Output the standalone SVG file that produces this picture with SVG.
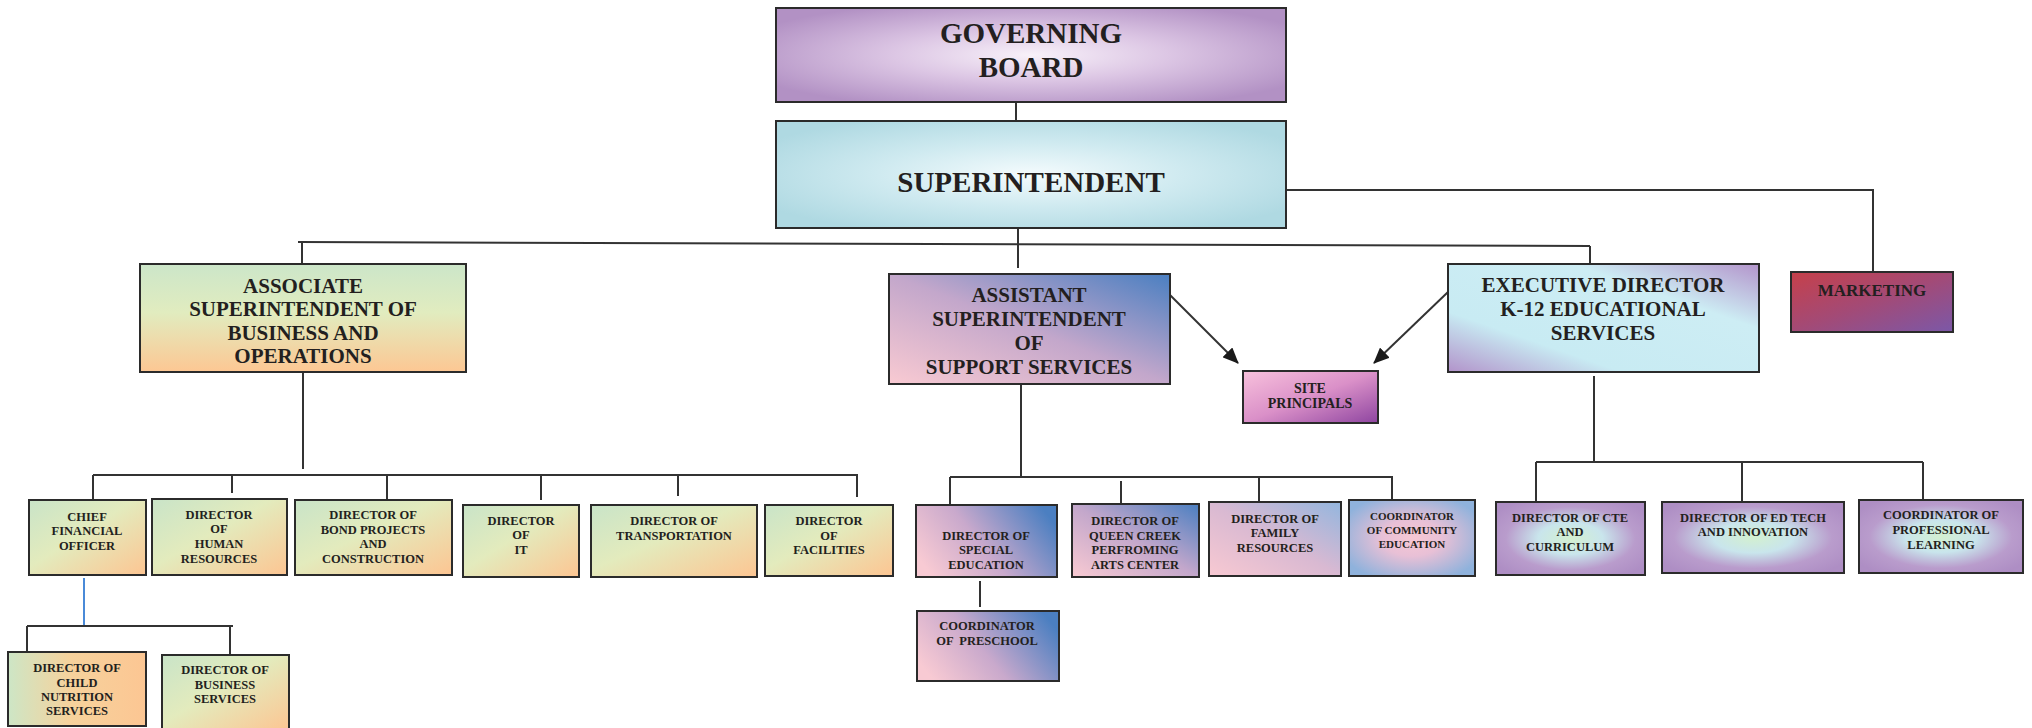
<svg xmlns="http://www.w3.org/2000/svg" width="2032" height="728" viewBox="0 0 2032 728">
<defs>
<radialGradient id="gGov" cx="50%" cy="50%" r="60%">
<stop offset="0" stop-color="#f8f1f9"/><stop offset="0.45" stop-color="#dcc6e4"/><stop offset="1" stop-color="#b291c4"/>
</radialGradient>
<radialGradient id="gSup" cx="50%" cy="50%" r="60%">
<stop offset="0" stop-color="#f4fbfd"/><stop offset="0.5" stop-color="#cfeaf0"/><stop offset="1" stop-color="#afd9e2"/>
</radialGradient>
<linearGradient id="gAssoc" x1="0" y1="0" x2="0" y2="1">
<stop offset="0" stop-color="#cce6c9"/><stop offset="0.45" stop-color="#e1ecbf"/><stop offset="1" stop-color="#fdc793"/>
</linearGradient>
<linearGradient id="gBiz" x1="0" y1="0" x2="1" y2="1">
<stop offset="0" stop-color="#c9e4c8"/><stop offset="0.45" stop-color="#e3ebbd"/><stop offset="1" stop-color="#fdc592"/>
</linearGradient>
<linearGradient id="gChild" x1="0" y1="0" x2="1" y2="0">
<stop offset="0" stop-color="#cde6c6"/><stop offset="0.45" stop-color="#f6d29c"/><stop offset="1" stop-color="#fcc693"/>
</linearGradient>
<linearGradient id="gAsst" x1="0" y1="1" x2="1" y2="0">
<stop offset="0" stop-color="#f9cad2"/><stop offset="0.5" stop-color="#c3a7cb"/><stop offset="1" stop-color="#4a7fc1"/>
</linearGradient>
<linearGradient id="gSup2" x1="0" y1="0.7" x2="1" y2="0.3">
<stop offset="0" stop-color="#f8cad3"/><stop offset="0.45" stop-color="#c9a9cc"/><stop offset="1" stop-color="#4b7fc1"/>
</linearGradient>
<linearGradient id="gFam" x1="0" y1="1" x2="1" y2="0">
<stop offset="0" stop-color="#f8c9d2"/><stop offset="0.5" stop-color="#d9b9d2"/><stop offset="1" stop-color="#93b6de"/>
</linearGradient>
<radialGradient id="gComm" cx="50%" cy="50%" r="60%">
<stop offset="0" stop-color="#f7c7d4"/><stop offset="0.4" stop-color="#e8c0d6"/><stop offset="1" stop-color="#8fb2dc"/>
</radialGradient>
<linearGradient id="gSite" x1="0" y1="0" x2="1" y2="1">
<stop offset="0" stop-color="#f8c1dc"/><stop offset="0.5" stop-color="#da90c8"/><stop offset="1" stop-color="#8e45a0"/>
</linearGradient>
<linearGradient id="gMkt" x1="0" y1="0" x2="1" y2="1">
<stop offset="0" stop-color="#c6404a"/><stop offset="0.5" stop-color="#a34a76"/><stop offset="1" stop-color="#7b58a8"/>
</linearGradient>
<linearGradient id="gExec" x1="0" y1="1" x2="1" y2="0">
<stop offset="0" stop-color="#b293ca"/><stop offset="0.28" stop-color="#c8ebf3"/><stop offset="0.7" stop-color="#cdedf4"/><stop offset="1" stop-color="#b394cb"/>
</linearGradient>
<radialGradient id="gK12" cx="50%" cy="50%" r="62%">
<stop offset="0" stop-color="#d3f0d0"/><stop offset="0.35" stop-color="#c9e5ec"/><stop offset="0.7" stop-color="#b99ccc"/><stop offset="1" stop-color="#ae8ec4"/>
</radialGradient>
<marker id="arrow" viewBox="0 0 16 14" refX="15" refY="7" markerWidth="16" markerHeight="14" orient="auto" markerUnits="userSpaceOnUse">
<path d="M0,0 L16,7 L0,14 z" fill="#1a1a1a"/>
</marker>
</defs>
<style>
.box{stroke:#2b2b2b;stroke-width:2}
.t{font-family:"Liberation Serif","Times New Roman",serif;font-weight:bold;fill:#231f20;text-anchor:middle}
.xl{font-size:29px}
.l{font-size:21px}
.m{font-size:17px}
.sp{font-size:14px}
.s{font-size:12.5px}
.xs{font-size:11px}
.c{fill:none;stroke:#333;stroke-width:2}
.cb{fill:none;stroke:#4a8ad8;stroke-width:2}
</style>

<g id="connectors">
<line class="c" x1="1016" y1="102" x2="1016" y2="121"/>
<polyline class="c" points="1286,190 1873,190 1873,271"/>
<line class="c" x1="1018" y1="228" x2="1018" y2="268"/>
<line class="c" x1="298" y1="242" x2="1590" y2="246"/>
<line class="c" x1="302" y1="242" x2="302" y2="264"/>
<line class="c" x1="1590" y1="246" x2="1590" y2="264"/>
<line class="c" x1="303" y1="372" x2="303" y2="469"/>
<line class="c" x1="93" y1="475" x2="858" y2="475"/>
<line class="c" x1="93" y1="475" x2="93" y2="500"/>
<line class="c" x1="232" y1="476" x2="232" y2="493"/>
<line class="c" x1="387" y1="475" x2="387" y2="500"/>
<line class="c" x1="541" y1="475" x2="541" y2="500"/>
<line class="c" x1="678" y1="475" x2="678" y2="496"/>
<line class="c" x1="857" y1="475" x2="857" y2="497"/>
<line class="cb" x1="84" y1="578" x2="84" y2="625"/>
<line class="c" x1="27" y1="626" x2="233" y2="626"/>
<line class="c" x1="27" y1="626" x2="27" y2="654"/>
<line class="c" x1="230" y1="626" x2="230" y2="655"/>
<line class="c" x1="1021" y1="384" x2="1021" y2="476"/>
<line class="c" x1="950" y1="477" x2="1393" y2="477"/>
<line class="c" x1="950" y1="477" x2="950" y2="505"/>
<line class="c" x1="1121" y1="481" x2="1121" y2="504"/>
<line class="c" x1="1259" y1="477" x2="1259" y2="502"/>
<line class="c" x1="1392" y1="477" x2="1392" y2="506"/>
<line class="c" x1="980" y1="581" x2="980" y2="607"/>
<line class="c" x1="1594" y1="376" x2="1594" y2="462"/>
<line class="c" x1="1536" y1="462" x2="1923" y2="462"/>
<line class="c" x1="1536" y1="462" x2="1536" y2="502"/>
<line class="c" x1="1742" y1="462" x2="1742" y2="502"/>
<line class="c" x1="1923" y1="462" x2="1923" y2="500"/>
<line class="c" x1="1170" y1="295" x2="1238" y2="363" marker-end="url(#arrow)"/>
<line class="c" x1="1448" y1="292" x2="1374" y2="363" marker-end="url(#arrow)"/>
</g>

<g id="governing-board">
<rect class="box" x="776" y="8" width="510" height="94" fill="url(#gGov)"/>
<text class="t xl" x="1031" y="43">GOVERNING</text>
<text class="t xl" x="1031" y="77">BOARD</text>
</g>
<g id="superintendent">
<rect class="box" x="776" y="121" width="510" height="107" fill="url(#gSup)"/>
<text class="t xl" x="1031" y="192">SUPERINTENDENT</text>
</g>
<g id="assoc-supt">
<rect class="box" x="140" y="264" width="326" height="108" fill="url(#gAssoc)"/>
<text class="t l" x="303" y="293">ASSOCIATE</text>
<text class="t l" x="303" y="316">SUPERINTENDENT OF</text>
<text class="t l" x="303" y="340">BUSINESS AND</text>
<text class="t l" x="303" y="363">OPERATIONS</text>
</g>
<g id="asst-supt">
<rect class="box" x="889" y="274" width="281" height="110" fill="url(#gAsst)"/>
<text class="t l" x="1029" y="302">ASSISTANT</text>
<text class="t l" x="1029" y="326">SUPERINTENDENT</text>
<text class="t l" x="1029" y="350">OF</text>
<text class="t l" x="1029" y="374">SUPPORT SERVICES</text>
</g>
<g id="site-principals">
<rect class="box" x="1243" y="371" width="135" height="52" fill="url(#gSite)"/>
<text class="t sp" x="1310" y="393">SITE</text>
<text class="t sp" x="1310" y="408">PRINCIPALS</text>
</g>
<g id="exec-dir">
<rect class="box" x="1448" y="264" width="311" height="108" fill="url(#gExec)"/>
<text class="t l" x="1603" y="292">EXECUTIVE DIRECTOR</text>
<text class="t l" x="1603" y="316">K-12 EDUCATIONAL</text>
<text class="t l" x="1603" y="340">SERVICES</text>
</g>
<g id="marketing">
<rect class="box" x="1791" y="272" width="162" height="60" fill="url(#gMkt)"/>
<text class="t m" x="1872" y="296">MARKETING</text>
</g>

<g id="cfo">
<rect class="box" x="29" y="500" width="117" height="75" fill="url(#gBiz)"/>
<text class="t s" x="87" y="521">CHIEF</text>
<text class="t s" x="87" y="535">FINANCIAL</text>
<text class="t s" x="87" y="550">OFFICER</text>
</g>
<g id="dir-hr">
<rect class="box" x="152" y="499" width="135" height="76" fill="url(#gBiz)"/>
<text class="t s" x="219" y="519">DIRECTOR</text>
<text class="t s" x="219" y="533">OF</text>
<text class="t s" x="219" y="548">HUMAN</text>
<text class="t s" x="219" y="563">RESOURCES</text>
</g>
<g id="dir-bond">
<rect class="box" x="295" y="500" width="157" height="75" fill="url(#gBiz)"/>
<text class="t s" x="373" y="519">DIRECTOR OF</text>
<text class="t s" x="373" y="534">BOND PROJECTS</text>
<text class="t s" x="373" y="548">AND</text>
<text class="t s" x="373" y="563">CONSTRUCTION</text>
</g>
<g id="dir-it">
<rect class="box" x="463" y="505" width="116" height="72" fill="url(#gBiz)"/>
<text class="t s" x="521" y="525">DIRECTOR</text>
<text class="t s" x="521" y="539">OF</text>
<text class="t s" x="521" y="554">IT</text>
</g>
<g id="dir-transport">
<rect class="box" x="591" y="505" width="166" height="72" fill="url(#gBiz)"/>
<text class="t s" x="674" y="525">DIRECTOR OF</text>
<text class="t s" x="674" y="540">TRANSPORTATION</text>
</g>
<g id="dir-facilities">
<rect class="box" x="765" y="505" width="128" height="71" fill="url(#gBiz)"/>
<text class="t s" x="829" y="525">DIRECTOR</text>
<text class="t s" x="829" y="540">OF</text>
<text class="t s" x="829" y="554">FACILITIES</text>
</g>
<g id="dir-child-nutrition">
<rect class="box" x="8" y="652" width="138" height="74" fill="url(#gChild)"/>
<text class="t s" x="77" y="672">DIRECTOR OF</text>
<text class="t s" x="77" y="687">CHILD</text>
<text class="t s" x="77" y="701">NUTRITION</text>
<text class="t s" x="77" y="715">SERVICES</text>
</g>
<g id="dir-business-services">
<rect class="box" x="162" y="655" width="127" height="76" fill="url(#gBiz)"/>
<text class="t s" x="225" y="674">DIRECTOR OF</text>
<text class="t s" x="225" y="689">BUSINESS</text>
<text class="t s" x="225" y="703">SERVICES</text>
</g>

<g id="dir-special-ed">
<rect class="box" x="916" y="505" width="141" height="72" fill="url(#gSup2)"/>
<text class="t s" x="986" y="540">DIRECTOR OF</text>
<text class="t s" x="986" y="554">SPECIAL</text>
<text class="t s" x="986" y="569">EDUCATION</text>
</g>
<g id="dir-qc-arts">
<rect class="box" x="1072" y="504" width="127" height="73" fill="url(#gAsst)"/>
<text class="t s" x="1135" y="525">DIRECTOR OF</text>
<text class="t s" x="1135" y="540">QUEEN CREEK</text>
<text class="t s" x="1135" y="554">PERFROMING</text>
<text class="t s" x="1135" y="569">ARTS CENTER</text>
</g>
<g id="dir-family">
<rect class="box" x="1209" y="502" width="132" height="74" fill="url(#gFam)"/>
<text class="t s" x="1275" y="523">DIRECTOR OF</text>
<text class="t s" x="1275" y="537">FAMILY</text>
<text class="t s" x="1275" y="552">RESOURCES</text>
</g>
<g id="coord-community">
<rect class="box" x="1349" y="500" width="126" height="76" fill="url(#gComm)"/>
<text class="t xs" x="1412" y="520">COORDINATOR</text>
<text class="t xs" x="1412" y="534">OF COMMUNITY</text>
<text class="t xs" x="1412" y="548">EDUCATION</text>
</g>
<g id="coord-preschool">
<rect class="box" x="917" y="611" width="142" height="70" fill="url(#gSup2)"/>
<text class="t s" x="987" y="630">COORDINATOR</text>
<text class="t s" x="987" y="645" style="white-space:pre">OF  PRESCHOOL</text>
</g>

<g id="dir-cte">
<rect class="box" x="1496" y="502" width="149" height="73" fill="url(#gK12)"/>
<text class="t s" x="1570" y="522">DIRECTOR OF CTE</text>
<text class="t s" x="1570" y="536">AND</text>
<text class="t s" x="1570" y="551">CURRICULUM</text>
</g>
<g id="dir-edtech">
<rect class="box" x="1662" y="502" width="182" height="71" fill="url(#gK12)"/>
<text class="t s" x="1753" y="522">DIRECTOR OF ED TECH</text>
<text class="t s" x="1753" y="536">AND INNOVATION</text>
</g>
<g id="coord-prof-learning">
<rect class="box" x="1859" y="500" width="164" height="73" fill="url(#gK12)"/>
<text class="t s" x="1941" y="519">COORDINATOR OF</text>
<text class="t s" x="1941" y="534">PROFESSIONAL</text>
<text class="t s" x="1941" y="549">LEARNING</text>
</g>
</svg>
